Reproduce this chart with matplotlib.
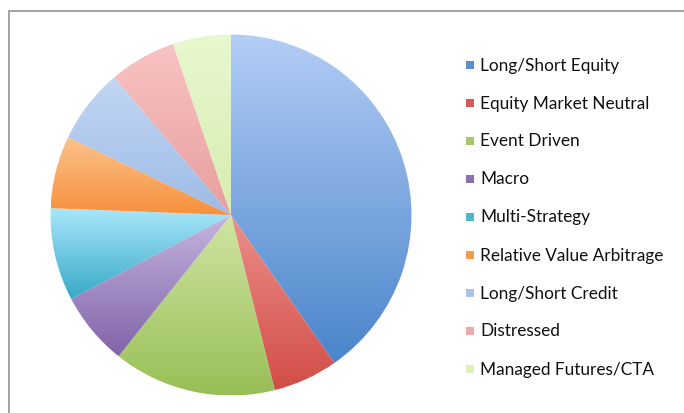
import numpy as np
import matplotlib
matplotlib.use("Agg")
import matplotlib.pyplot as plt
from matplotlib.colors import LinearSegmentedColormap
from matplotlib.patches import Rectangle

# Hedge fund strategy allocation (%)
strategies = ["Long/Short Equity", "Equity Market Neutral", "Event Driven", "Macro",
              "Multi-Strategy", "Relative Value Arbitrage", "Long/Short Credit",
              "Distressed", "Managed Futures/CTA"]
shares = [40.3, 5.8, 14.6, 6.6, 8.3, 6.5, 6.7, 6.0, 5.2]

# gradient colours per slice: (top, bottom)
top_colors = ["#b3cdf6", "#ec8f8a", "#d0e5a3", "#c6b5e0", "#a9e7fb", "#fcc28c",
              "#c2d6f4", "#f9c3c3", "#e8f8cf"]
bottom_colors = ["#4a85cb", "#d24d47", "#98bf56", "#8163a9", "#37a9c7", "#f7903c",
                 "#9ebbe6", "#e79e9e", "#d6edb0"]
legend_colors = ["#5a8fd2", "#d65a55", "#a3c865", "#8c70b2", "#4cb6d3", "#f89a4c",
                 "#a9c4ec", "#eeaaaa", "#dcf0b9"]

W, H, DPI = 684, 413, 100
cx, cy, R = 231, 215, 180.5

fig = plt.figure(figsize=(W / DPI, H / DPI), dpi=DPI)
ax = fig.add_axes([0, 0, 1, 1])
ax.axis("off")

wedges, _ = ax.pie(shares, startangle=90, counterclock=False, radius=1.0,
                   center=(0, 0), wedgeprops=dict(linewidth=0))

grad = np.linspace(0, 1, 256).reshape(-1, 1)
for w, ct, cb in zip(wedges, top_colors, bottom_colors):
    ext = w.get_path().get_extents()
    cmap = LinearSegmentedColormap.from_list("g", [ct, cb])
    im = ax.imshow(grad, cmap=cmap, aspect="auto", interpolation="bicubic",
                   extent=(ext.x0, ext.x1, ext.y0, ext.y1), origin="upper", zorder=1)
    im.set_clip_path(w)
    w.set_facecolor("none")

ax.set_xlim(-cx / R, (W - cx) / R)
ax.set_ylim((cy - H) / R, cy / R)
ax.set_aspect("auto")

# chart border
fig.patches.append(Rectangle((9 / W, -0.1), 1.2, (H - 10.5) / H + 0.1,
                             transform=fig.transFigure, fill=False,
                             edgecolor="#a3a3a3", linewidth=1.4))

# legend
leg_x, leg_y0, leg_dy = 466, 65, 38
for i, (name, col) in enumerate(zip(strategies, legend_colors)):
    y = leg_y0 + i * leg_dy
    fig.patches.append(Rectangle((leg_x / W, 1 - (y + 4) / H), 8 / W, 8 / H,
                                 transform=fig.transFigure, facecolor=col,
                                 edgecolor="none"))
    fig.text((leg_x + 14) / W, 1 - (y + 0.5) / H, name, fontsize=12.4, family="Lato",
             color="#111111", va="center", ha="left")

fig.savefig("out.png", dpi=DPI)
